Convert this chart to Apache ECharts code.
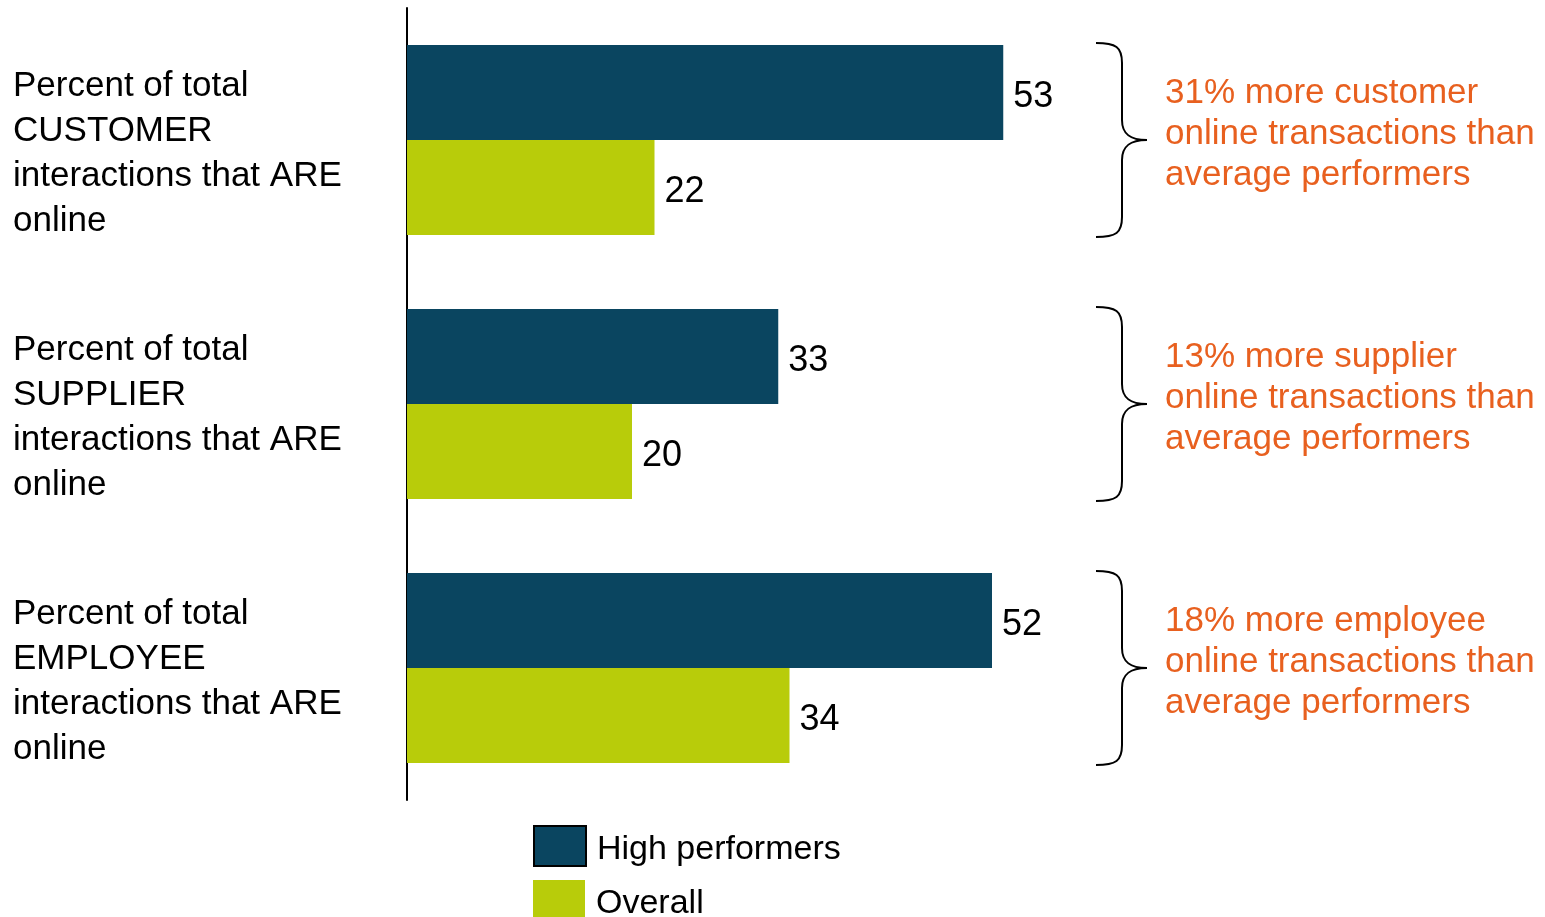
<!DOCTYPE html>
<html>
<head>
<meta charset="utf-8">
<script src="https://cdn.jsdelivr.net/npm/echarts@6/dist/echarts.min.js"></script>
<style>html,body{margin:0;padding:0;background:#fff;}#main{width:1545px;height:917px;}</style>
</head>
<body>
<div id="main"></div>
<script>
var categories = [
  'Percent of total\nCUSTOMER\ninteractions that ARE\nonline',
  'Percent of total\nSUPPLIER\ninteractions that ARE\nonline',
  'Percent of total\nEMPLOYEE\ninteractions that ARE\nonline'
];
var seriesNames = ['High performers', 'Overall'];
var highPerformers = [53, 33, 52];
var overall = [22, 20, 34];
var annotations = [
  '31% more customer\nonline transactions than\naverage performers',
  '13% more supplier\nonline transactions than\naverage performers',
  '18% more employee\nonline transactions than\naverage performers'
];

var FONT = "'Liberation Sans', Arial, sans-serif";
var legendText = {
  color: '#000', fontFamily: FONT, fontSize: 34,
  rich: { t: { color: '#000', fontFamily: FONT, fontSize: 34, padding: [8, 0, 0, 6] } }
};
var chart = echarts.init(document.getElementById('main'));
chart.setOption({
  animation: false,
  backgroundColor: '#fff',
  grid: { left: 407, right: 13, top: 8, bottom: 117, containLabel: false },
  xAxis: { type: 'value', min: 0, max: 100, show: false },
  yAxis: {
    type: 'category', data: categories, inverse: true,
    axisLine: { show: true, lineStyle: { color: '#000', width: 2 } },
    axisTick: { show: false },
    splitLine: { show: false },
    axisLabel: {
      align: 'left', margin: 394, color: '#000', fontFamily: FONT,
      fontSize: 35, lineHeight: 45,
      formatter: function (v) { return '{s|}\n' + v; },
      rich: { s: { lineHeight: 28, fontSize: 10 } }
    }
  },
  legend: [
    { left: 533, top: 825, padding: 0, itemWidth: 52, itemHeight: 40, icon: 'rect',
      textStyle: legendText, formatter: '{t|{name}}',
      data: [{ name: seriesNames[0], itemStyle: { borderColor: '#000', borderWidth: 2 } }] },
    { left: 533, top: 880, padding: 0, itemWidth: 52, itemHeight: 40, icon: 'rect',
      textStyle: legendText, formatter: '{t|{name}}',
      data: [{ name: seriesNames[1] }] }
  ],
  series: [
    {
      name: seriesNames[0], type: 'bar', data: highPerformers, barWidth: 95, barGap: '0%',
      itemStyle: { color: '#0a4560' },
      label: { show: true, position: 'right', distance: 10, offset: [0, 5], color: '#000', fontFamily: FONT, fontSize: 36 }
    },
    {
      name: seriesNames[1], type: 'bar', data: overall, barWidth: 95, barGap: '0%',
      itemStyle: { color: '#b8cc0a' },
      label: { show: true, position: 'right', distance: 10, offset: [0, 5], color: '#000', fontFamily: FONT, fontSize: 36 }
    }
  ]
});

function brace(x0, x1, xt, t, m, b) {
  var st = { stroke: '#000', lineWidth: 2, fill: null };
  function bz(a, c1, c2, d) {
    return { type: 'bezierCurve', shape: { x1: a[0], y1: a[1], cpx1: c1[0], cpy1: c1[1], cpx2: c2[0], cpy2: c2[1], x2: d[0], y2: d[1] }, style: st };
  }
  function ln(a, d) {
    return { type: 'line', shape: { x1: a[0], y1: a[1], x2: d[0], y2: d[1] }, style: st };
  }
  return {
    type: 'group',
    children: [
      bz([x0, t], [x1 - 6, t], [x1, t + 4], [x1, t + 20]),
      ln([x1, t + 20], [x1, m - 20]),
      bz([x1, m - 20], [x1, m - 6], [x1 + 8, m], [xt, m]),
      bz([xt, m], [x1 + 8, m], [x1, m + 6], [x1, m + 20]),
      ln([x1, m + 20], [x1, b - 20]),
      bz([x1, b - 20], [x1, b - 4], [x1 - 6, b], [x0, b])
    ]
  };
}

var graphics = [];
categories.forEach(function (c, i) {
  var cy = chart.convertToPixel({ yAxisIndex: 0 }, c);
  graphics.push(brace(1096, 1122, 1147, cy - 97, cy, cy + 97));
  graphics.push({
    type: 'text', left: 1165, top: cy - 5 - 62,
    style: { text: annotations[i], fill: '#e8601f', font: '35px ' + FONT, lineHeight: 41 }
  });
});
chart.setOption({ graphic: graphics });
</script>
</body>
</html>
